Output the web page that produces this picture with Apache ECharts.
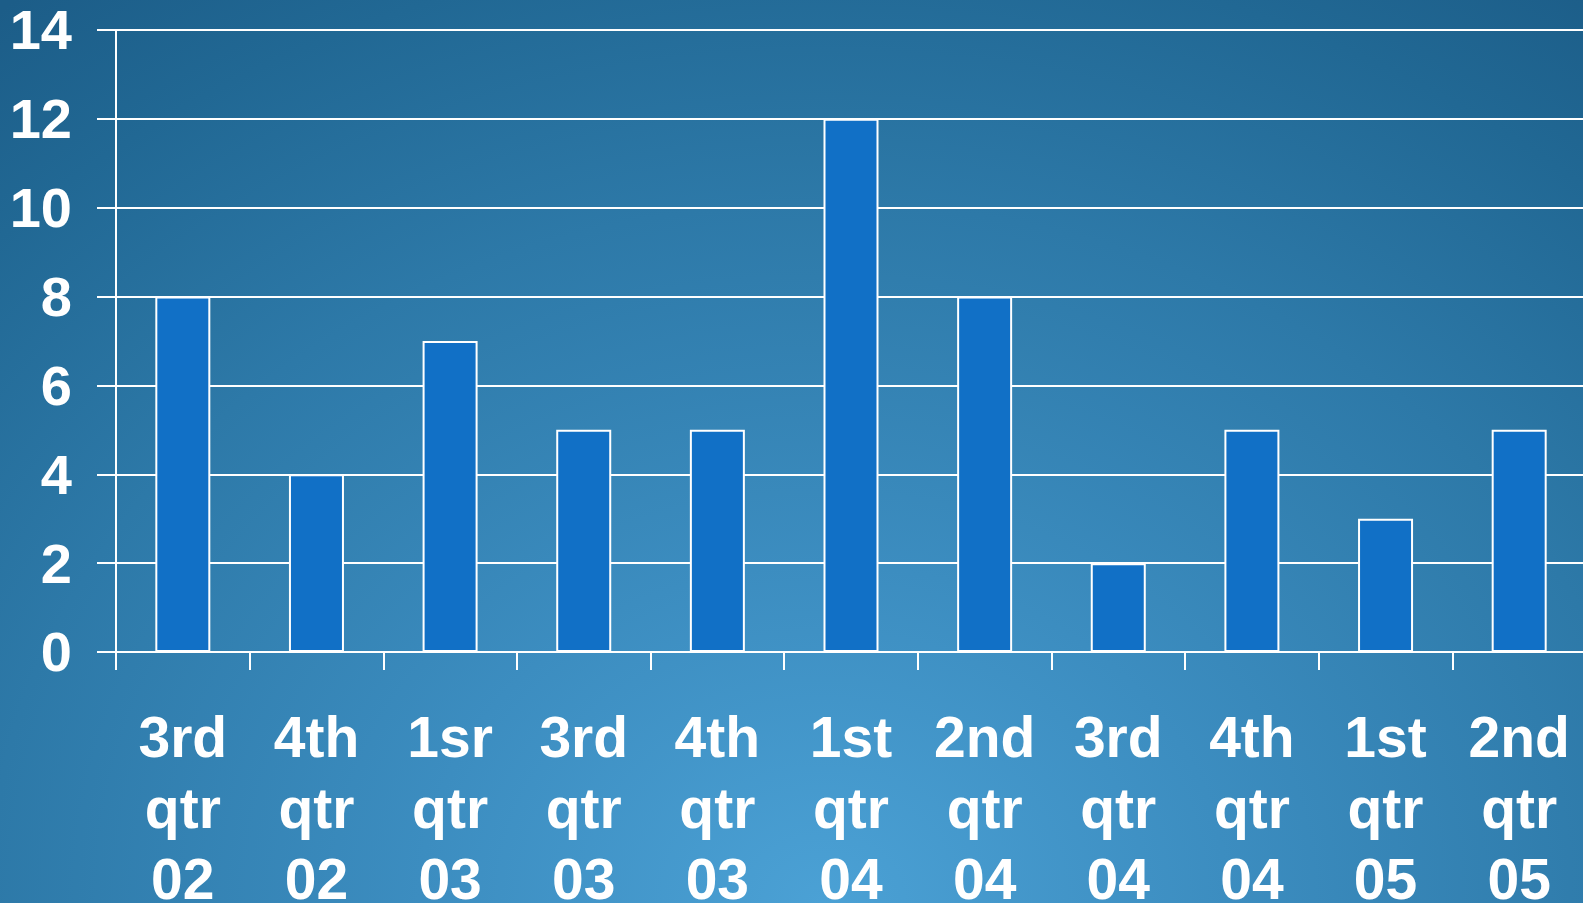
<!DOCTYPE html>
<html>
<head>
<meta charset="utf-8">
<script src="https://cdn.jsdelivr.net/npm/echarts@6/dist/echarts.min.js"></script>
<style>
  html, body { margin: 0; padding: 0; width: 1583px; height: 903px; overflow: hidden; }
  body {
    background: radial-gradient(ellipse 85% 125% at 52% 100%, #4ba1d5 0%, #3c8dc0 30%, #2d79a8 62%, #216894 85%, #1c5d88 100%);
  }
  #chart { width: 1583px; height: 903px; }
</style>
</head>
<body>
<div id="chart"></div>
<script>
// Quarterly counts
const categories = [
  '3rd\nqtr\n02', '4th\nqtr\n02', '1sr\nqtr\n03', '3rd\nqtr\n03', '4th\nqtr\n03',
  '1st\nqtr\n04', '2nd\nqtr\n04', '3rd\nqtr\n04', '4th\nqtr\n04', '1st\nqtr\n05', '2nd\nqtr\n05'
];
const values = [8, 4, 7, 5, 5, 12, 8, 2, 5, 3, 5];
const yTicks = { min: 0, max: 14, interval: 2 };

const chart = echarts.init(document.getElementById('chart'), null, { renderer: 'canvas' });
const fontFamily = 'Arial, "Liberation Sans", Helvetica, sans-serif';

chart.setOption({
  backgroundColor: 'transparent',
  animation: false,
  grid: {
    left: 116, top: 30, width: 1470, height: 622,
    containLabel: false,
    outerBoundsMode: 'none'
  },
  xAxis: {
    type: 'category',
    data: categories,
    boundaryGap: true,
    axisLine: { show: true, lineStyle: { color: '#ffffff', width: 2 } },
    axisTick: { show: true, alignWithLabel: false, length: 18, lineStyle: { color: '#ffffff', width: 2 } },
    axisLabel: {
      color: '#ffffff',
      fontFamily: fontFamily,
      fontWeight: 'bold',
      fontSize: 57,
      lineHeight: 71,
      margin: 54,
      interval: 0
    },
    splitLine: { show: false }
  },
  yAxis: {
    type: 'value',
    min: yTicks.min,
    max: yTicks.max,
    interval: yTicks.interval,
    axisLine: { show: true, lineStyle: { color: '#ffffff', width: 2 } },
    axisTick: { show: true, inside: false, length: 19, lineStyle: { color: '#ffffff', width: 2 } },
    axisLabel: {
      color: '#ffffff',
      fontFamily: fontFamily,
      fontWeight: 'bold',
      fontSize: 56,
      margin: 44,
      formatter: '{v|{value}}',
      rich: {
        v: {
          color: '#ffffff',
          fontFamily: fontFamily,
          fontWeight: 'bold',
          fontSize: 56,
          padding: [8, 0, 0, 0]
        }
      }
    },
    splitLine: { show: true, lineStyle: { color: '#ffffff', width: 2 } }
  },
  series: [{
    type: 'bar',
    data: values,
    barWidth: 55,
    itemStyle: {
      color: '#1170c6',
      borderColor: '#ffffff',
      borderWidth: 2
    }
  }]
});
</script>
</body>
</html>
